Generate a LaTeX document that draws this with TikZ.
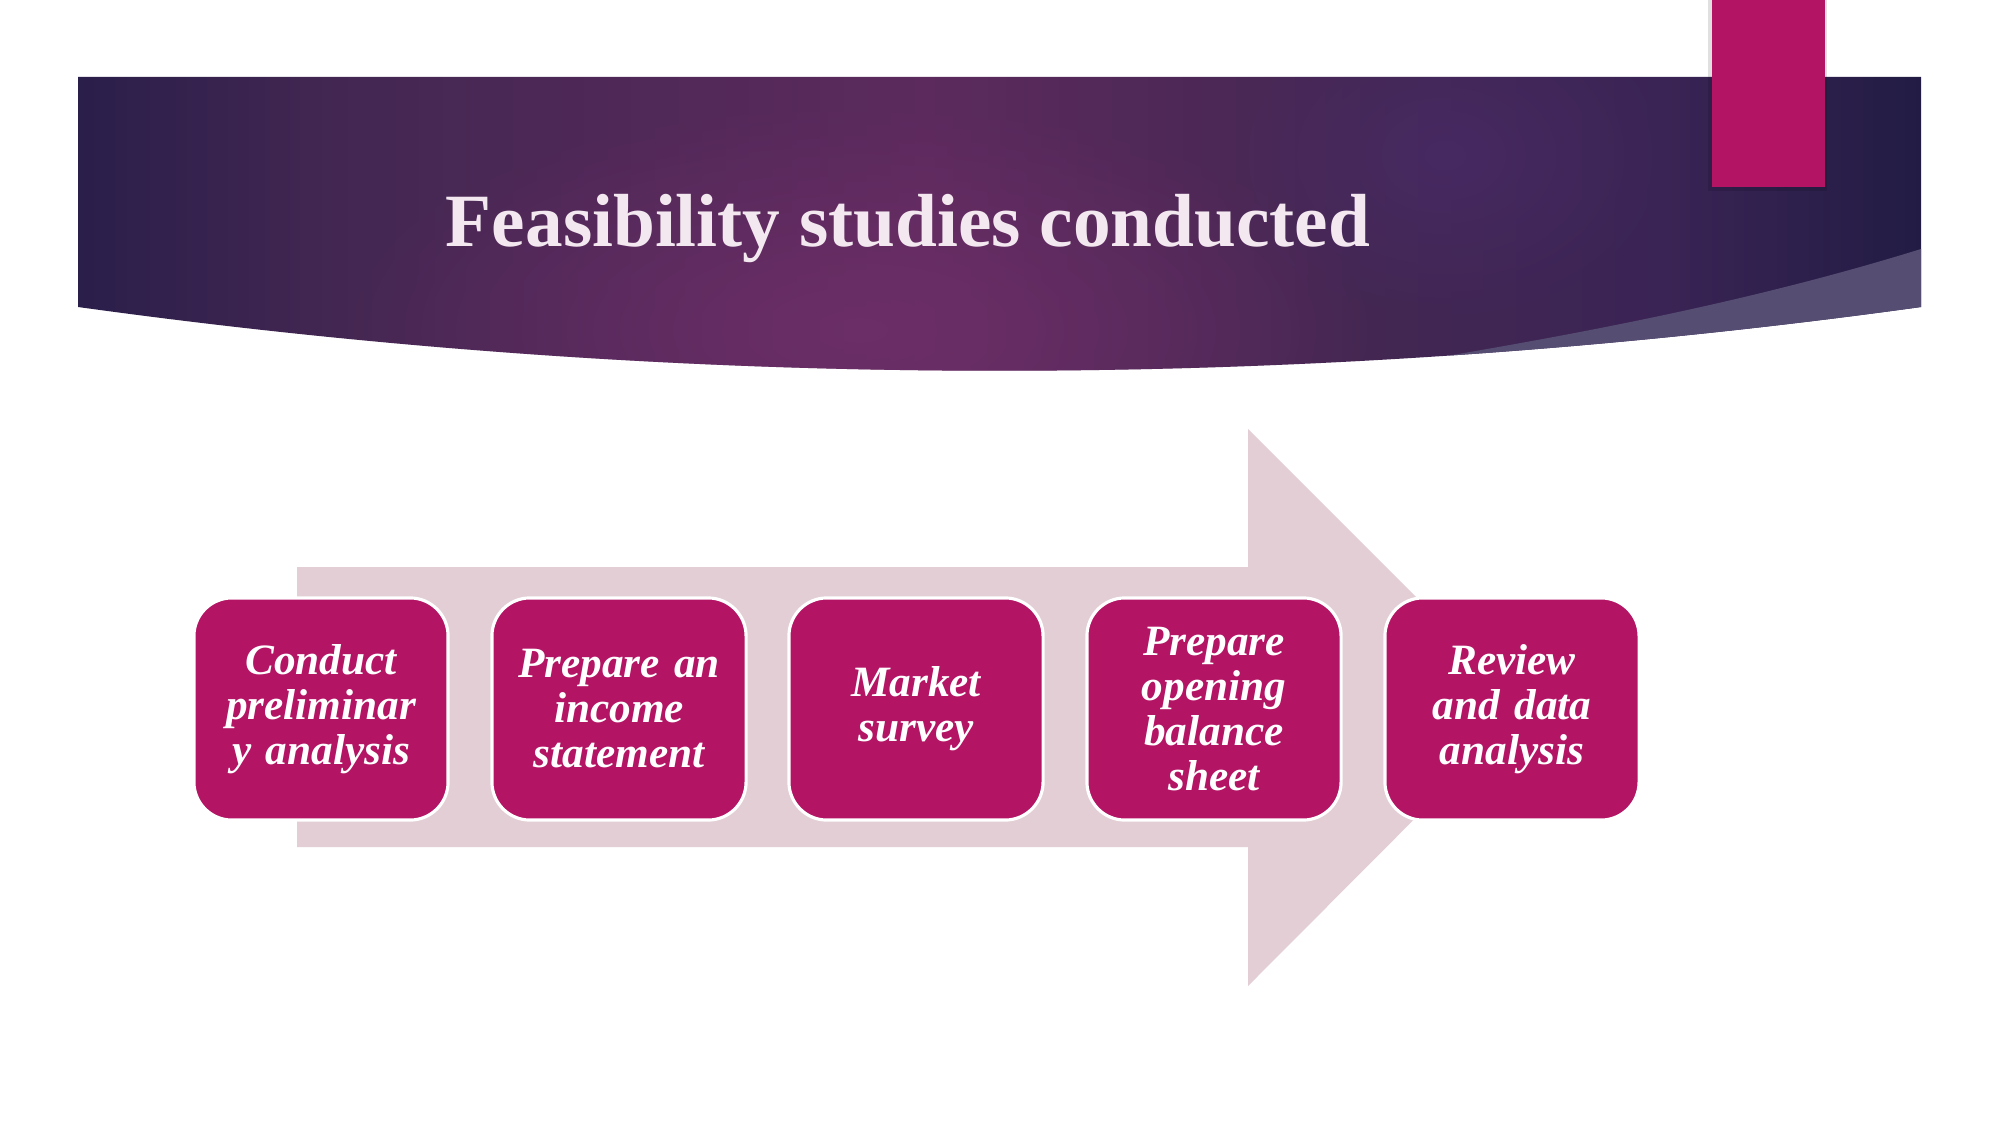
\documentclass[tikz,border=0pt]{standalone}
\usepackage{fontspec}
\setmainfont{Liberation Serif}
\usetikzlibrary{fadings}
\definecolor{hdrA}{HTML}{2A1E4A}
\definecolor{hdrB}{HTML}{432752}
\definecolor{hdrC}{HTML}{5C2A5D}
\definecolor{hdrD}{HTML}{3A2455}
\definecolor{hdrE}{HTML}{221C44}
\definecolor{hdrGlow}{HTML}{74306C}
\definecolor{hdrBlue}{HTML}{4C2C6E}
\definecolor{hdrLight}{HTML}{564D72}
\definecolor{boxmag}{HTML}{B31464}
\definecolor{arrowpink}{HTML}{E2CED4}
\definecolor{titlecol}{HTML}{F3E8F0}
\tikzfading[name=glowfade, inner color=transparent!0, outer color=transparent!100]
\pgfdeclarehorizontalshading{hdrshade}{100bp}{color(0bp)=(hdrA); color(25bp)=(hdrA); color(32bp)=(hdrB); color(48bp)=(hdrC); color(60bp)=(hdrB); color(68bp)=(hdrD); color(75bp)=(hdrE); color(100bp)=(hdrE)}
\tikzset{
  stepbox/.style={draw=white, line width=0.9pt, fill=boxmag, rounded corners=0.38cm,
    minimum width=2.54cm, minimum height=2.22cm, text width=2.3cm, align=center,
    text=white, font=\fontsize{12.3}{12.8}\selectfont\bfseries\itshape},
  titletext/.style={text=titlecol, font=\fontsize{21.4}{24}\selectfont\bfseries}
}
\begin{document}
\begin{tikzpicture}[x=0.01cm,y=-0.01cm]
\useasboundingbox (0,0) rectangle (2001,1125);
\fill[white] (0,0) rectangle (2001,1125);
% header band
\begin{scope}
  \clip (78,77) -- (1921,77) -- (1921,307) .. controls (1307,392) and (692,392) .. (78,307) -- cycle;
  \shade[shading=hdrshade] (78,77) rectangle (1921,400);
  \fill[hdrGlow, path fading=glowfade, opacity=0.7] (860,330) ellipse (520 and 230);
  \fill[hdrBlue, path fading=glowfade, opacity=0.55] (1445,155) ellipse (230 and 170);
  \fill[hdrLight] (1921,249) .. controls (1740,305) and (1560,338) .. (1350,372) -- (1350,420) -- (1950,420) -- (1950,249) -- cycle;
\end{scope}
% magenta tab
\fill[black, opacity=0.12] (1708,0) rectangle (1827,191);
\fill[boxmag] (1712,0) rectangle (1825,187);
% title
\node[titletext, anchor=base] (title) at (908,247) {Feasibility studies conducted};
% process arrow
\fill[arrowpink] (297,567) -- (1248,567) -- (1248,429) -- (1526,707) -- (1248,986) -- (1248,847) -- (297,847) -- cycle;
% steps
\node[stepbox] (b1) at (321,709) {Conduct\\preliminar\\y analysis};
\node[stepbox] (b2) at (619,709) {Prepare an\\income\\statement};
\node[stepbox] (b3) at (916,709) {Market\\survey};
\node[stepbox] (b4) at (1214,709) {Prepare\\opening\\balance\\sheet};
\node[stepbox] (b5) at (1512,709) {Review\\and data\\analysis};
\end{tikzpicture}
\end{document}
